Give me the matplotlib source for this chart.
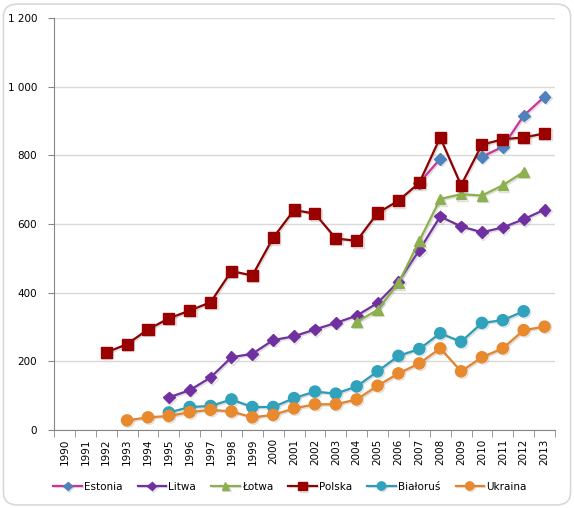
import matplotlib.pyplot as plt
import numpy as np
from matplotlib.patches import FancyBboxPatch
from matplotlib import patheffects as pe

nan = np.nan
years = [str(y) for y in range(1990, 2014)]

estonia = [nan]*17 + [720, 790, nan, 796, 825, 916, 971]
litwa = [nan]*5 + [95, 116, 153, 212, 222, 262, 273, 293, 312, 333, 370,
                   432, 524, 622, 593, 576, 590, 614, 642]
lotwa = [nan]*14 + [315, 350, 428, 551, 673, 687, 683, 713, 752, nan]
polska = [nan]*2 + [226, 250, 293, 325, 348, 372, 463, 450, 560, 641, 630,
                    558, 551, 632, 668, 720, 852, 713, 831, 847, 852, 864]
bialorus = [nan]*5 + [51, 67, 70, 89, 67, 67, 93, 112, 106, 127, 171,
                      216, 236, 282, 257, 312, 320, 346, nan]
ukraina = [nan]*3 + [28, 37, 41, 52, 59, 54, 37, 44, 63, 75, 75, 89, 129,
                     165, 194, 238, 171, 212, 238, 291, 301]

series = [
    ('Estonia', estonia, '#CC3399', '#4F81BD', 'D', 6),
    ('Litwa', litwa, '#7030A0', '#7030A0', 'D', 6),
    ('\u0141otwa', lotwa, '#8DB04E', '#8DB04E', '^', 7.5),
    ('Polska', polska, '#8B0000', '#990000', 's', 8),
    ('Bia\u0142oru\u015b', bialorus, '#2E9BB5', '#31A2BC', 'o', 8),
    ('Ukraina', ukraina, '#E5842C', '#E8892E', 'o', 8),
]

fig = plt.figure(figsize=(5.74, 5.08), dpi=100)
frame = FancyBboxPatch((0.006, 0.006), 0.988, 0.986,
                       boxstyle='round,pad=0,rounding_size=0.025',
                       transform=fig.transFigure, fc='white', ec='#D9D9D9',
                       lw=1.2, zorder=-10)
fig.patches.append(frame)

ax = fig.add_axes([0.0941, 0.1535, 0.8728, 0.8110])
ax.set_facecolor('none')
x = np.arange(len(years))
shadow = [pe.SimpleLineShadow(offset=(1, -1), alpha=0.25, shadow_color='gray'), pe.Normal()]
for name, vals, lc, mc, mk, ms in series:
    ax.plot(x, vals, color=lc, lw=1.6, marker=mk, ms=ms, mfc=mc, mec=mc,
            label=name, path_effects=shadow, zorder=3)

ax.set_xlim(-0.5, len(years) - 0.5)
ax.set_ylim(0, 1200)
ax.set_yticks(range(0, 1201, 200))
ax.set_yticklabels([f'{v:,}'.replace(',', ' ') for v in range(0, 1201, 200)])
ax.set_xticks(x)
ax.set_xticklabels(years, rotation=90)
ax.set_xticks(np.arange(-0.5, len(years), 1), minor=True)
ax.tick_params(axis='x', which='major', length=0, pad=6, labelsize=7.5)
ax.tick_params(axis='x', which='minor', length=5, color='#868686')
ax.tick_params(axis='y', length=4, color='#868686', labelsize=7.5, pad=8)
ax.grid(axis='y', color='#D9D9D9', lw=1)
ax.set_axisbelow(True)
for s in ['top', 'right']:
    ax.spines[s].set_visible(False)
for s in ['left', 'bottom']:
    ax.spines[s].set_color('#868686')

fig.legend(loc='center', bbox_to_anchor=(0.505, 0.042), ncol=6, frameon=False,
           fontsize=7.5, handlelength=2.7, handletextpad=0.2,
           columnspacing=1.5, markerscale=0.75)

fig.savefig('out.png', dpi=100)
